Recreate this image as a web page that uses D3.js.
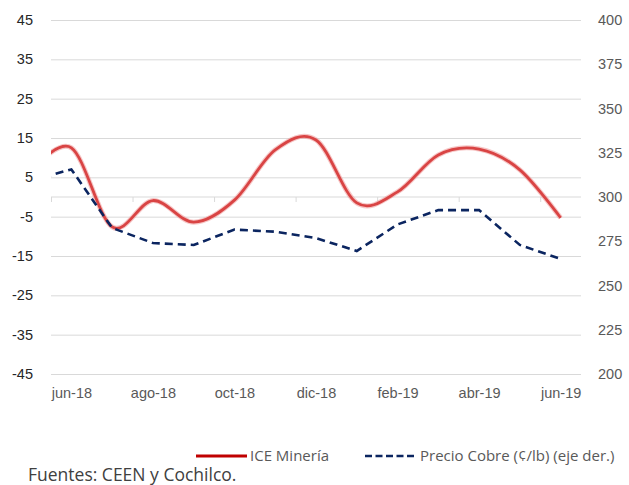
<!DOCTYPE html>
<html>
<head>
<meta charset="utf-8">
<script src="https://cdn.jsdelivr.net/npm/d3@7"></script>
<style>
  body { margin: 0; background: #fff; }
  svg { display: block; font-family: "Open Sans", "Noto Sans", sans-serif; }
</style>
</head>
<body>
<svg id="chart" width="629" height="485"></svg>
<script>
// Categories (first one lies just outside the plot and is clipped, as in the original)
const months = ["may-18","jun-18","jul-18","ago-18","sep-18","oct-18","nov-18","dic-18",
                "ene-19","feb-19","mar-19","abr-19","may-19","jun-19"];
// ICE Minería (left axis)
const iceMineria = [6.4, 12.5, -7.6, -0.9, -6.4, -0.8, 12.0, 14.5, -1.5, 1.3, 10.7, 12.2, 6.9, -5.3];
// Precio Cobre (¢/lb) (right axis)
const precioCobre = [309.2, 315.6, 282.5, 274.0, 272.9, 281.6, 280.4, 276.8, 269.5, 284.5, 292.6, 292.6, 272.9, 265.0];
// Tick values
const leftTicks = [-45, -35, -25, -15, -5, 5, 15, 25, 35, 45];
const rightTicks = [200, 225, 250, 275, 300, 325, 350, 375, 400];
const labelIdx = [1, 3, 5, 7, 9, 11, 13];
const boundaryIdx = [0.5, 2.5, 4.5, 6.5, 8.5, 10.5, 12.5];

const svg = d3.select("#chart");
const L = 51, R = 581, T = 20, B = 374;

const x = d3.scaleLinear().domain([0.5, 13.5]).range([L, R]);
const yL = d3.scaleLinear().domain([-45, 45]).range([B, T]);
const yR = d3.scaleLinear().domain([200, 400]).range([B, T]);

svg.append("defs").append("clipPath").attr("id", "plotclip")
  .append("rect").attr("x", L).attr("y", 0).attr("width", R - L).attr("height", 485);

// Gridlines
const grid = svg.append("g").attr("transform", `translate(${L},0)`)
  .call(d3.axisLeft(yL).tickValues(leftTicks).tickSize(-(R - L)).tickFormat(""));
grid.select(".domain").remove();
grid.selectAll("line").attr("stroke", "#d9d9d9").attr("stroke-width", 1);

// Left axis labels
const la = svg.append("g").attr("transform", `translate(33,0)`)
  .call(d3.axisLeft(yL).tickValues(leftTicks).tickSize(0).tickPadding(0).tickFormat(d => String(d)));
la.select(".domain").remove();
la.selectAll("text").attr("font-size", 14.5).attr("fill", "#262626");

// Right axis labels
const ra = svg.append("g").attr("transform", `translate(598,0)`)
  .call(d3.axisRight(yR).tickValues(rightTicks).tickSize(0).tickPadding(0).tickFormat(d => String(d)));
ra.select(".domain").remove();
ra.selectAll("text").attr("font-size", 14.5).attr("fill", "#595959");

// Category axis on the zero line
const zeroAxis = svg.append("g").attr("transform", `translate(0,${yL(0)})`)
  .call(d3.axisBottom(x).tickValues(boundaryIdx).tickSize(5).tickFormat("").tickSizeOuter(0));
zeroAxis.select(".domain").attr("stroke", "#d9d9d9").attr("d", `M${L},0H${R}`);
zeroAxis.selectAll(".tick line").attr("stroke", "#d9d9d9");

// X labels at the bottom
const xa = svg.append("g").attr("transform", `translate(0,${B + 14})`)
  .call(d3.axisBottom(x).tickValues(labelIdx).tickSize(0).tickPadding(0)
        .tickFormat(i => months[i]));
xa.select(".domain").remove();
xa.selectAll("text").attr("font-size", 14.5).attr("fill", "#595959");

// Lines
const plot = svg.append("g").attr("clip-path", "url(#plotclip)");
const redLine = d3.line().x((d, i) => x(i)).y(d => yL(d)).curve(d3.curveCatmullRom.alpha(0));
const blueLine = d3.line().x((d, i) => x(i)).y(d => yR(d));

plot.append("path").datum(iceMineria).attr("d", redLine)
  .attr("fill", "none").attr("stroke", "#f0a0a0").attr("stroke-width", 5).attr("opacity", 0.6);
plot.append("path").datum(iceMineria).attr("d", redLine)
  .attr("fill", "none").attr("stroke", "#d94444").attr("stroke-width", 2.8);
plot.append("path").datum(precioCobre).attr("d", blueLine)
  .attr("fill", "none").attr("stroke", "#0b2560").attr("stroke-width", 2.6)
  .attr("stroke-dasharray", "8,5");

// Legend
const lg = svg.append("g").attr("font-size", 15).attr("fill", "#595959");
lg.append("line").attr("x1", 196).attr("x2", 247).attr("y1", 456).attr("y2", 456)
  .attr("stroke", "#c00000").attr("stroke-width", 3);
lg.append("text").attr("x", 250).attr("y", 461).text("ICE Minería");
lg.append("line").attr("x1", 365).attr("x2", 415).attr("y1", 456).attr("y2", 456)
  .attr("stroke", "#0b2560").attr("stroke-width", 2.6).attr("stroke-dasharray", "7,3.5");
lg.append("text").attr("x", 420).attr("y", 461).text("Precio Cobre (¢/lb) (eje der.)");

svg.append("text").attr("x", 28).attr("y", 481).attr("font-size", 17.5).attr("fill", "#404040")
  .text("Fuentes: CEEN y Cochilco.");
</script>
</body>
</html>
